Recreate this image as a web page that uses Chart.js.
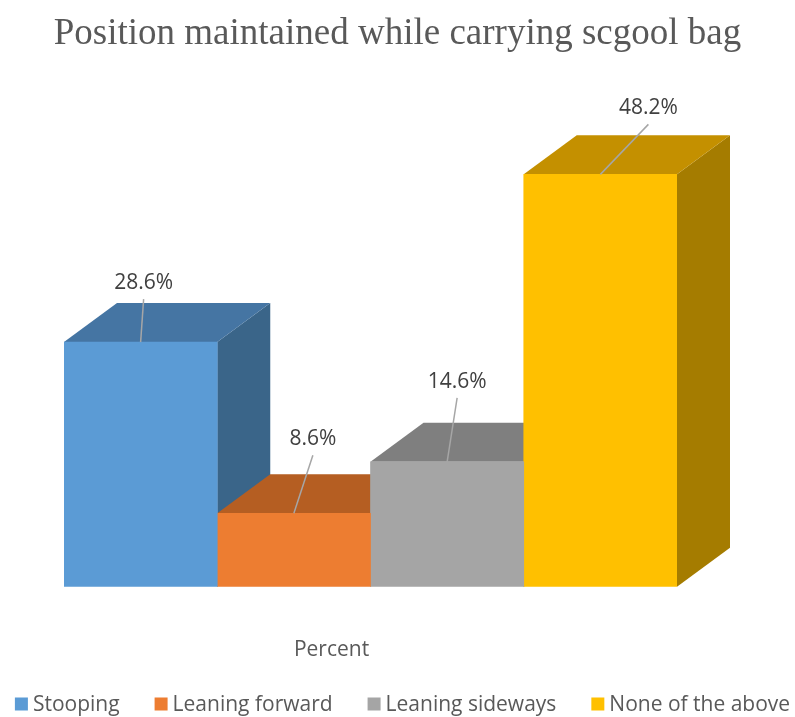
<!DOCTYPE html>
<html>
<head>
<meta charset="utf-8">
<script src="https://cdn.jsdelivr.net/npm/chart.js@4"></script>
<style>
  html, body { margin: 0; padding: 0; background: #fff; }
  #wrap { width: 795px; height: 717px; }
</style>
</head>
<body>
<div id="wrap"><canvas id="barChart"></canvas></div>
<script>
const categories = ['Percent'];
const seriesNames = ['Stooping', 'Leaning forward', 'Leaning sideways', 'None of the above'];
const stooping = [28.6];
const leaningForward = [8.6];
const leaningSideways = [14.6];
const noneOfTheAbove = [48.2];

// face colours: front, top, side
const faceColors = [
    ['#5B9BD5', '#4575A3', '#3A6589'],
    ['#ED7D31', '#B55E22', '#A0521C'],
    ['#A5A5A5', '#7F7F7F', '#6E6E6E'],
    ['#FFC000', '#C49000', '#A57C00']
];

// where each value label sits, relative to the middle of the bar's front top edge
const labelOffsets = [[3, -59], [19, -74], [10, -80], [48, -66]];

const DEPTH_X = 53;
const DEPTH_Y = -39;
const TEXT_FONT = '"Open Sans"';

const cube3d = {
    id: 'cube3d',
    beforeDatasetsDraw(chart) {
        const ctx = chart.ctx;
        ctx.save();
        chart.data.datasets.forEach((ds, i) => {
            const bar = chart.getDatasetMeta(i).data[0];
            const left = bar.x - bar.width / 2;
            const right = bar.x + bar.width / 2;
            const top = bar.y;
            const bottom = bar.base;
            // side face
            ctx.fillStyle = faceColors[i][2];
            ctx.beginPath();
            ctx.moveTo(right, top);
            ctx.lineTo(right + DEPTH_X, top + DEPTH_Y);
            ctx.lineTo(right + DEPTH_X, bottom + DEPTH_Y);
            ctx.lineTo(right, bottom);
            ctx.closePath();
            ctx.fill();
            // top face
            ctx.fillStyle = faceColors[i][1];
            ctx.beginPath();
            ctx.moveTo(left, top);
            ctx.lineTo(left + DEPTH_X, top + DEPTH_Y);
            ctx.lineTo(right + DEPTH_X, top + DEPTH_Y);
            ctx.lineTo(right, top);
            ctx.closePath();
            ctx.fill();
        });
        ctx.restore();
    },
    afterDatasetsDraw(chart) {
        const ctx = chart.ctx;
        ctx.save();
        chart.data.datasets.forEach((ds, i) => {
            const bar = chart.getDatasetMeta(i).data[0];
            const lx = bar.x + labelOffsets[i][0];
            const ly = bar.y + labelOffsets[i][1];
            // leader line
            ctx.strokeStyle = '#A6A6A6';
            ctx.lineWidth = 1.5;
            ctx.beginPath();
            ctx.moveTo(lx, ly + 16);
            ctx.lineTo(bar.x, bar.y);
            ctx.stroke();
            ctx.fillStyle = '#404040';
            ctx.font = '21px ' + TEXT_FONT;
            ctx.textAlign = 'center';
            ctx.textBaseline = 'middle';
            ctx.fillText(ds.data[0].toFixed(1) + '%', lx, ly);
        });
        ctx.restore();
    }
};

// single-row legend along the bottom edge
const bottomLegend = {
    id: 'bottomLegend',
    afterDraw(chart) {
        const ctx = chart.ctx;
        const box = 13, textGap = 5, itemGap = 35, y = 704;
        ctx.save();
        ctx.font = '21px ' + TEXT_FONT;
        ctx.textBaseline = 'middle';
        ctx.textAlign = 'left';
        const widths = chart.data.datasets.map(ds => box + textGap + ctx.measureText(ds.label).width);
        const total = widths.reduce((a, b) => a + b, 0) + itemGap * (widths.length - 1);
        let x = (chart.width - total) / 2 + 5;
        chart.data.datasets.forEach((ds, i) => {
            ctx.fillStyle = ds.backgroundColor;
            ctx.fillRect(x, y - box / 2, box, box);
            ctx.fillStyle = '#595959';
            ctx.fillText(ds.label, x + box + textGap, y + 1);
            x += widths[i] + itemGap;
        });
        ctx.restore();
    }
};

const values = [stooping, leaningForward, leaningSideways, noneOfTheAbove];

new Chart(document.getElementById('barChart').getContext('2d'), {
    type: 'bar',
    data: {
        labels: categories,
        datasets: seriesNames.map((name, i) => ({
            label: name,
            data: values[i],
            backgroundColor: faceColors[i][0],
            borderWidth: 0,
            categoryPercentage: 1,
            barPercentage: 1
        }))
    },
    options: {
        responsive: true,
        maintainAspectRatio: false,
        animation: false,
        layout: { padding: { left: 0, right: 0, top: 0, bottom: 3 } },
        scales: {
            x: {
                grid: { display: false, drawTicks: false },
                border: { display: false },
                ticks: {
                    color: '#595959',
                    font: { family: TEXT_FONT, size: 21 },
                    padding: 51,
                    labelOffset: -39
                }
            },
            y: {
                position: 'left',
                min: 0,
                max: 60,
                grid: { display: false, drawTicks: false },
                border: { display: false },
                ticks: { display: false },
                afterFit(scale) { scale.width = 64; }
            },
            yRight: {
                position: 'right',
                min: 0,
                max: 60,
                grid: { display: false, drawTicks: false },
                border: { display: false },
                ticks: { display: false },
                afterFit(scale) { scale.width = 118; }
            }
        },
        plugins: {
            title: {
                display: true,
                text: 'Position maintained while carrying scgool bag',
                color: '#595959',
                font: { family: '"Liberation Serif"', size: 37, weight: 'normal' },
                padding: { top: 12, bottom: 17 }
            },
            legend: { display: false },
            tooltip: { enabled: false }
        }
    },
    plugins: [cube3d, bottomLegend]
});
</script>
</body>
</html>
